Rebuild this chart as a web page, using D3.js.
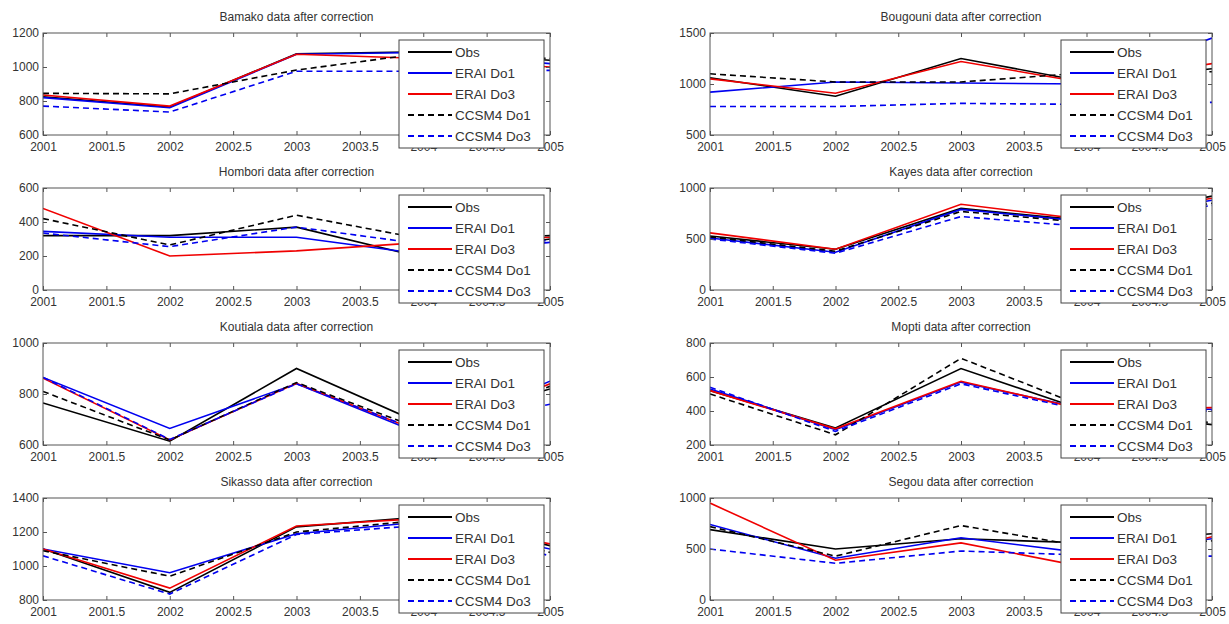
<!DOCTYPE html>
<html>
<head>
<meta charset="utf-8">
<script src="https://cdn.jsdelivr.net/npm/d3@7"></script>
<style>
  html, body { margin: 0; padding: 0; background: #fff; }
  svg text { font-family: "Liberation Sans", Arial, sans-serif; fill: #333; }
</style>
</head>
<body>
<svg id="chart" width="1229" height="624"></svg>
<script>
// Stations, in row-major order of the 4x2 grid
const stations = ["Bamako", "Bougouni", "Hombori", "Kayes", "Koutiala", "Mopti", "Sikasso", "Segou"];
const years = [2001, 2002, 2003, 2004, 2005];
const xTicks = [2001, 2001.5, 2002, 2002.5, 2003, 2003.5, 2004, 2004.5, 2005];

// y-axis domains and tick values per station
const yDomains = [[600, 1200], [500, 1500], [0, 600], [0, 1000], [600, 1000], [200, 800], [800, 1400], [0, 1000]];
const yTicks = [
  [600, 800, 1000, 1200], [500, 1000, 1500], [0, 200, 400, 600], [0, 500, 1000],
  [600, 800, 1000], [200, 400, 600, 800], [800, 1000, 1200, 1400], [0, 500, 1000]
];

// Yearly values after correction, one row per station
const obs = [
  [825, 765, 1078, 1090, 1040],
  [1060, 880, 1250, 1020, 1150],
  [320, 320, 370, 190, 300],
  [530, 400, 800, 680, 920],
  [765, 615, 900, 680, 820],
  [520, 300, 650, 400, 320],
  [1100, 845, 1230, 1290, 1120],
  [690, 500, 600, 560, 650]
];
const eraiDo1 = [
  [820, 760, 1075, 1085, 1020],
  [920, 1020, 1010, 1000, 1450],
  [345, 310, 310, 210, 280],
  [510, 370, 790, 670, 880],
  [865, 665, 840, 640, 850],
  [530, 290, 570, 410, 410],
  [1100, 960, 1190, 1260, 1100],
  [740, 410, 610, 460, 600]
];
const eraiDo3 = [
  [835, 770, 1075, 1050, 1000],
  [1050, 910, 1220, 1010, 1200],
  [480, 200, 230, 280, 310],
  [560, 400, 840, 690, 900],
  [862, 620, 842, 648, 840],
  [520, 295, 575, 405, 420],
  [1100, 870, 1235, 1280, 1130],
  [950, 390, 560, 320, 620]
];
const ccsmDo1 = [
  [845, 842, 982, 1080, 1050],
  [1100, 1020, 1020, 1110, 1120],
  [420, 265, 440, 300, 320],
  [520, 380, 770, 660, 850],
  [810, 620, 845, 660, 830],
  [500, 260, 710, 420, 330],
  [1090, 940, 1200, 1270, 1080],
  [720, 430, 730, 520, 580]
];
const ccsmDo3 = [
  [770, 735, 975, 975, 980],
  [780, 780, 810, 800, 820],
  [335, 255, 370, 270, 290],
  [500, 360, 720, 620, 830],
  [865, 622, 840, 650, 760],
  [540, 280, 560, 400, 400],
  [1060, 835, 1185, 1240, 1060],
  [500, 360, 480, 440, 430]
];

const seriesNames = ["Obs", "ERAI Do1", "ERAI Do3", "CCSM4 Do1", "CCSM4 Do3"];
const seriesData = [obs, eraiDo1, eraiDo3, ccsmDo1, ccsmDo3];
const seriesColor = ["#000000", "#0000f0", "#f00000", "#000000", "#0000f0"];
const seriesDash = [null, null, null, "6,4", "6,4"];

const colX = [[43, 550], [710, 1212]];
const rowTop = [33, 188, 343, 498];
const plotH = 102;

const svg = d3.select("#chart");

stations.forEach((name, i) => {
  const col = i % 2, row = Math.floor(i / 2);
  const [x0, x1] = colX[col];
  const top = rowTop[row], bottom = top + plotH;

  const x = d3.scaleLinear().domain([2001, 2005]).range([x0, x1]);
  const y = d3.scaleLinear().domain(yDomains[i]).range([bottom, top]);

  const g = svg.append("g");

  // clip region for the plot area
  const clipId = "clip" + i;
  g.append("clipPath").attr("id", clipId)
    .append("rect").attr("x", x0).attr("y", top).attr("width", x1 - x0).attr("height", plotH);

  // series lines
  const line = d3.line().x((d, k) => x(years[k])).y(d => y(d));
  const lines = g.append("g").attr("clip-path", `url(#${clipId})`);
  seriesData.forEach((s, k) => {
    lines.append("path")
      .datum(s[i])
      .attr("d", line)
      .attr("fill", "none")
      .attr("stroke", seriesColor[k])
      .attr("stroke-width", 1.6)
      .attr("stroke-dasharray", seriesDash[k]);
  });

  // axes: ticks point inward, mirrored on top and right
  const axCol = "#555";
  const bottomAx = g.append("g").attr("transform", `translate(0,${bottom})`)
    .call(d3.axisBottom(x).tickValues(xTicks).tickSizeInner(-4).tickSizeOuter(0).tickPadding(7)
      .tickFormat(d => String(d)));
  const topAx = g.append("g").attr("transform", `translate(0,${top})`)
    .call(d3.axisTop(x).tickValues(xTicks).tickSizeInner(-4).tickSizeOuter(0).tickFormat(""));
  const leftAx = g.append("g").attr("transform", `translate(${x0},0)`)
    .call(d3.axisLeft(y).tickValues(yTicks[i]).tickSizeInner(-4).tickSizeOuter(0).tickPadding(4)
      .tickFormat(d3.format("d")));
  const rightAx = g.append("g").attr("transform", `translate(${x1},0)`)
    .call(d3.axisRight(y).tickValues(yTicks[i]).tickSizeInner(-4).tickSizeOuter(0).tickFormat(""));

  [bottomAx, topAx, leftAx, rightAx].forEach(a => {
    a.select(".domain").remove();
    a.selectAll("line").attr("stroke", axCol);
    a.selectAll("text").attr("font-size", 12).attr("fill", "#333")
      .attr("font-family", "'Liberation Sans', Arial, sans-serif");
  });

  g.append("rect")
    .attr("x", x0).attr("y", top).attr("width", x1 - x0).attr("height", plotH)
    .attr("fill", "none").attr("stroke", axCol).attr("stroke-width", 1);

  // title
  g.append("text")
    .attr("x", (x0 + x1) / 2).attr("y", top - 12)
    .attr("text-anchor", "middle")
    .attr("font-size", 12)
    .text(name + " data after correction");

  // legend box, upper right
  const lx = x1 - 151, ly = top + 7;
  const leg = g.append("g").attr("transform", `translate(${lx},${ly})`);
  leg.append("rect").attr("width", 145).attr("height", 108)
    .attr("fill", "#fff").attr("stroke", "#444").attr("stroke-width", 1);
  seriesNames.forEach((s, k) => {
    const yy = 12 + k * 21;
    leg.append("line")
      .attr("x1", 9).attr("x2", 53).attr("y1", yy).attr("y2", yy)
      .attr("stroke", seriesColor[k]).attr("stroke-width", 2)
      .attr("stroke-dasharray", seriesDash[k]);
    leg.append("text")
      .attr("x", 56).attr("y", yy).attr("dy", "0.35em")
      .attr("font-size", 13.5)
      .text(s);
  });
});
</script>
</body>
</html>
